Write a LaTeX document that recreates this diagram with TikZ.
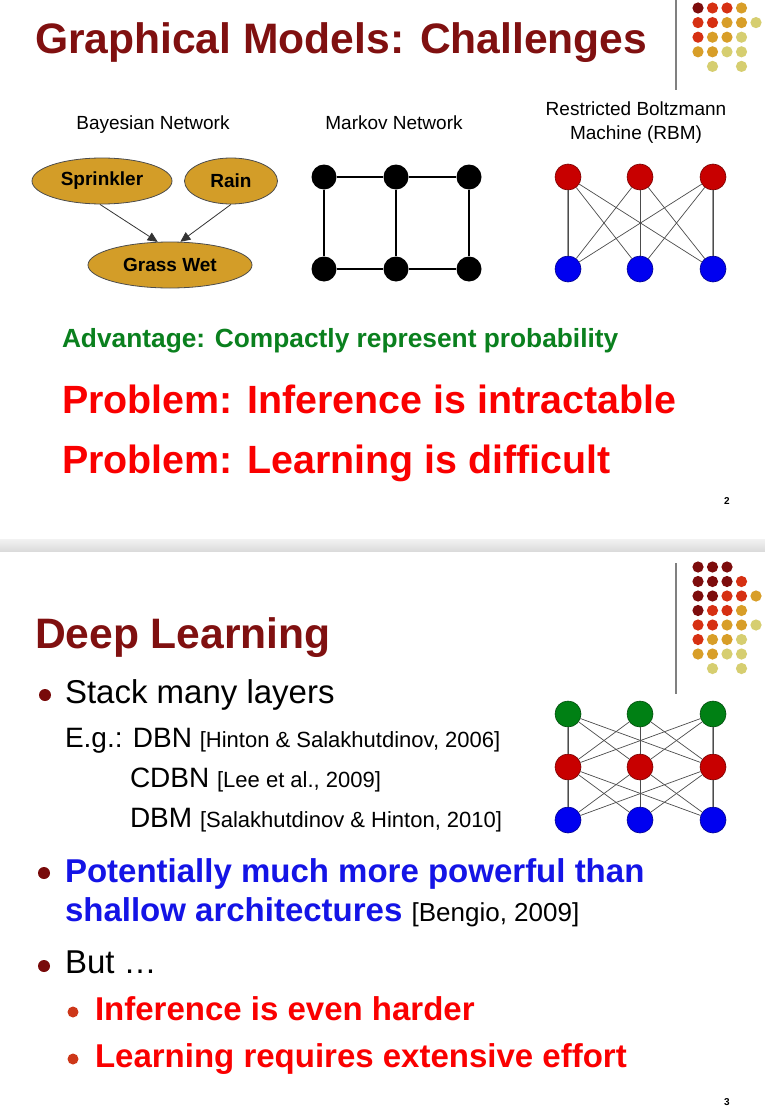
\documentclass[tikz,border=0pt]{standalone}
\usepackage{fontspec}
\setmainfont{Liberation Sans}
\usetikzlibrary{shapes.geometric,arrows.meta}
\definecolor{titlered}{RGB}{128,16,16}
\definecolor{advgreen}{RGB}{10,128,30}
\definecolor{probred}{RGB}{250,0,0}
\definecolor{potblue}{RGB}{20,20,230}
\definecolor{bnfill}{RGB}{211,157,40}
\definecolor{dotD}{RGB}{125,12,12}
\definecolor{dotR}{RGB}{214,48,18}
\definecolor{dotG}{RGB}{216,158,40}
\definecolor{dotP}{RGB}{214,206,112}
\definecolor{rbmred}{RGB}{200,0,0}
\definecolor{rbmblue}{RGB}{0,0,240}
\definecolor{rbmgreen}{RGB}{0,128,20}
\definecolor{bulletD}{RGB}{120,10,10}
\definecolor{bulletR}{RGB}{205,55,25}
\newcommand{\setfs}[1]{\fontsize{#1}{#1}\selectfont}
\begin{document}
\begin{tikzpicture}[x=1pt,y=-1pt,
  txt/.style={anchor=base west, inner sep=0, outer sep=0},
  lbl/.style={anchor=base, inner sep=0, outer sep=0, font=\setfs{19}},
  pnum/.style={anchor=base, inner sep=0, font=\bfseries\setfs{10}},
  bn/.style={ellipse, draw=black!70, fill=bnfill, line width=0.8pt, inner sep=0, minimum height=46pt, font=\bfseries\setfs{19}},
  bnarrow/.style={draw=black!80, line width=0.8pt, -{Triangle[length=10pt,width=9pt]}},
  mn/.style={circle, fill=black, inner sep=0, minimum size=25pt},
  medge/.style={line width=1.5pt, black},
  unit/.style={circle, inner sep=0, minimum size=26pt, line width=0.6pt},
  ured/.style={unit, fill=rbmred, draw=rbmred!60!black},
  ublue/.style={unit, fill=rbmblue, draw=rbmblue!60!black},
  ugreen/.style={unit, fill=rbmgreen, draw=rbmgreen!60!black},
  cross/.style={line width=0.7pt, black!70},
  vert/.style={line width=2pt, black!40},
  vline/.style={line width=1.2pt, black!50},
  bigbullet/.style={circle, fill=bulletD, inner sep=0, minimum size=12pt},
  smallbullet/.style={circle, fill=bulletR, inner sep=0, minimum size=11pt}
]
\useasboundingbox (0,0) rectangle (765,1108);
\fill[white] (0,0) rectangle (765,1108);
% slide separator
\shade[top color=gray!10, bottom color=gray!28] (0,539) rectangle (765,551);

% ---------- decoration top slide ----------
\draw[vline] (676,0) -- (676,90);
\foreach \c/\r/\col in {0/0/dotD,1/0/dotR,2/0/dotR,3/0/dotG,
  0/1/dotR,1/1/dotR,2/1/dotG,3/1/dotG,4/1/dotP,
  0/2/dotR,1/2/dotG,2/2/dotG,3/2/dotP,
  0/3/dotG,1/3/dotG,2/3/dotP,3/3/dotP,
  1/4/dotP,3/4/dotP}
  \fill[\col] ({698+14.5*\c},{8+14.6*\r}) circle (5.6);

% ---------- slide 2 ----------
\node[txt, text=titlered, font=\bfseries\setfs{42.6}] (t1) at (35,53) {Graphical Models: Challenges};

\node[lbl] (lbn) at (153,129) {Bayesian Network};
\node[lbl] (lmn) at (394,129) {Markov Network};
\node[lbl] (lr1) at (636,115) {Restricted Boltzmann};
\node[lbl] (lr2) at (636,139) {Machine (RBM)};

% Bayesian network
\node[bn, minimum width=140pt] (spr) at (102,181) {Sprinkler};
\node[bn, minimum width=93pt] (rain) at (231,181) {Rain};
\node[bn, minimum width=164pt] (gw) at (170,265) {Grass Wet};
\draw[bnarrow] (spr.265) -- (gw.118);
\draw[bnarrow] (rain.south) -- (gw.66);

% Markov network
\node[mn] (m1) at (324,177) {};
\node[mn] (m2) at (396,177) {};
\node[mn] (m3) at (469,177) {};
\node[mn] (m4) at (324,269) {};
\node[mn] (m5) at (396,269) {};
\node[mn] (m6) at (469,269) {};
\draw[medge] (m1) -- (m2) -- (m3);
\draw[medge] (m4) -- (m5) -- (m6);
\draw[medge] (m1) -- (m4);
\draw[medge] (m2) -- (m5);
\draw[medge] (m3) -- (m6);

% RBM
\node[ured] (r1) at (568,177) {};
\node[ured] (r2) at (640,177) {};
\node[ured] (r3) at (713,177) {};
\node[ublue] (v1) at (568,269) {};
\node[ublue] (v2) at (640,269) {};
\node[ublue] (v3) at (713,269) {};
\draw[vert] (r1) -- (v1);
\draw[vert] (r3) -- (v3);
\foreach \a in {1,2,3}{\foreach \b in {1,2,3}{\draw[cross] (r\a) -- (v\b);}}

\node[txt, text=advgreen, font=\bfseries\setfs{26.3}] (adv) at (62,347) {Advantage: Compactly represent probability};
\node[txt, text=probred, font=\bfseries\setfs{39.4}] (pb1) at (62,413) {Problem: Inference is intractable};
\node[txt, text=probred, font=\bfseries\setfs{39.4}] (pb2) at (62,473) {Problem: Learning is difficult};
\node[pnum] (pn2) at (727,504) {2};

% ---------- decoration bottom slide ----------
\draw[vline] (676,563) -- (676,694);
\foreach \c/\r/\col in {0/0/dotD,1/0/dotD,2/0/dotD,
  0/1/dotD,1/1/dotD,2/1/dotD,3/1/dotR,
  0/2/dotD,1/2/dotD,2/2/dotR,3/2/dotR,4/2/dotG,
  0/3/dotD,1/3/dotR,2/3/dotR,3/3/dotG,
  0/4/dotR,1/4/dotR,2/4/dotG,3/4/dotG,4/4/dotP,
  0/5/dotR,1/5/dotG,2/5/dotG,3/5/dotP,
  0/6/dotG,1/6/dotG,2/6/dotP,3/6/dotP,
  1/7/dotP,3/7/dotP}
  \fill[\col] ({698+14.5*\c},{567+14.5*\r}) circle (5.6);

\node[txt, text=titlered, font=\bfseries\setfs{42.6}] (t2) at (35,648) {Deep Learning};

\node[bigbullet] (bu1) at (45,695) {};
\node[txt, font=\setfs{33}] (s1) at (65,703) {Stack many layers};
\node[txt] (s2) at (65,747) {{\setfs{28}E.g.: DBN }{\setfs{22}[Hinton \& Salakhutdinov, 2006]}};
\node[txt] (s3) at (130,787) {{\setfs{28}CDBN }{\setfs{22}[Lee et al., 2009]}};
\node[txt] (s4) at (130,827) {{\setfs{28}DBM }{\setfs{22}[Salakhutdinov \& Hinton, 2010]}};

\node[bigbullet] (bu2) at (44,873) {};
\node[txt, text=potblue, font=\bfseries\setfs{33}] (s5) at (65,882) {Potentially much more powerful than};
\node[txt] (s6) at (65,921) {{\color{potblue}\bfseries\setfs{33}shallow architectures }{\setfs{26}[Bengio, 2009]}};

\node[bigbullet] (bu3) at (44,966) {};
\node[txt, font=\setfs{33}] (s7) at (65,973) {But …};

\node[smallbullet] (sb1) at (73,1012) {};
\node[txt, text=probred, font=\bfseries\setfs{33}] (s8) at (95,1020) {Inference is even harder};
\node[smallbullet] (sb2) at (73,1059) {};
\node[txt, text=probred, font=\bfseries\setfs{33}] (s9) at (95,1067) {Learning requires extensive effort};

% deep network
\node[ugreen] (g1) at (568,714) {};
\node[ugreen] (g2) at (640,714) {};
\node[ugreen] (g3) at (713,714) {};
\node[ured] (h1) at (568,767) {};
\node[ured] (h2) at (640,767) {};
\node[ured] (h3) at (713,767) {};
\node[ublue] (w1) at (568,820) {};
\node[ublue] (w2) at (640,820) {};
\node[ublue] (w3) at (713,820) {};
\draw[vert] (g1) -- (h1); \draw[vert] (g3) -- (h3);
\draw[vert] (h1) -- (w1); \draw[vert] (h3) -- (w3);
\foreach \a in {1,2,3}{\foreach \b in {1,2,3}{
  \draw[cross] (g\a) -- (h\b);
  \draw[cross] (h\a) -- (w\b);}}

\node[pnum] (pn3) at (727,1105) {3};
\end{tikzpicture}
\end{document}
